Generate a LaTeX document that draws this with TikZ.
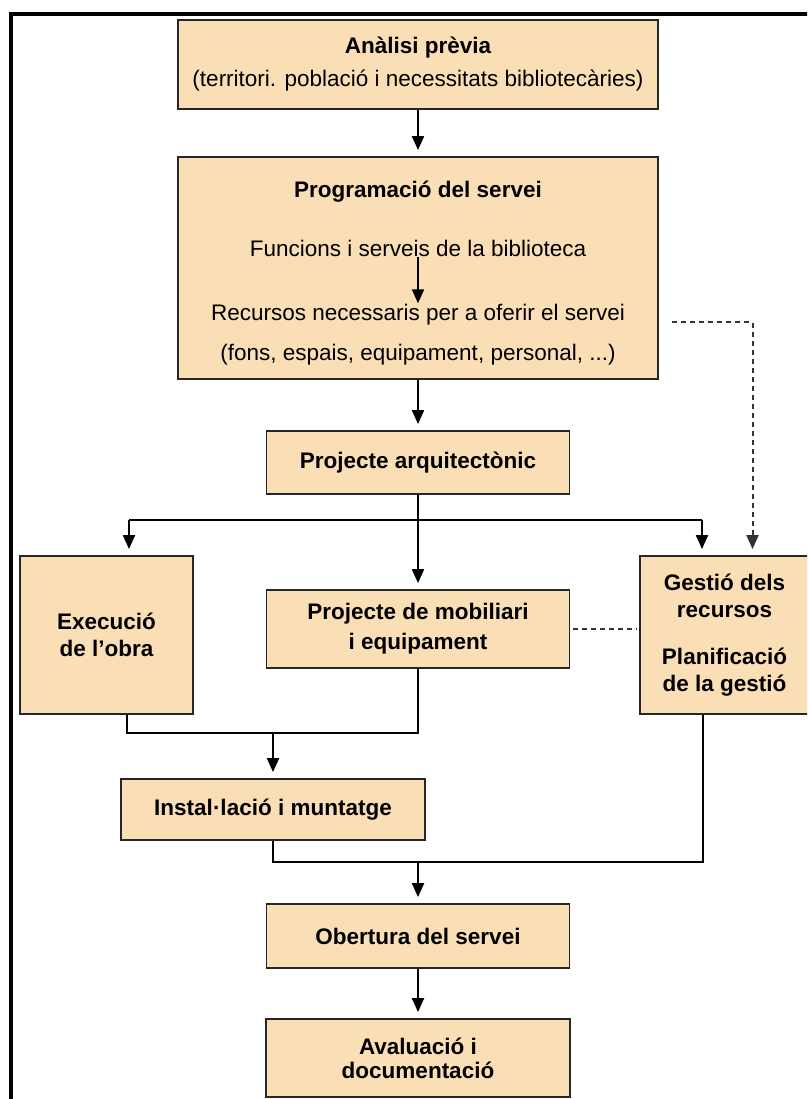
\documentclass[tikz,border=0pt]{standalone}
\usepackage{fontspec}
\setmainfont{Liberation Sans}
\usepackage{xcolor}
\usetikzlibrary{positioning, arrows.meta, calc}

\definecolor{peach}{RGB}{250,222,182}

\begin{document}
\begin{tikzpicture}[
    x=1pt, y=-1pt,
    font=\fontsize{22.5}{27}\selectfont,
    box/.style={
        rectangle,
        draw=black!85,
        fill=peach,
        line width=1.8pt,
        align=center,
        inner sep=2pt
    },
    bold/.style={font=\fontsize{22.5}{27}\selectfont\bfseries},
    txt/.style={align=center, inner sep=1pt},
    line/.style={line width=2pt},
    msg/.style={-{Triangle[width=12pt,length=14pt]}, line width=2pt, shorten >=6pt},
    dline/.style={dash pattern=on 5pt off 4pt, line width=2pt, black!80},
    dmsg/.style={dline, -{Triangle[width=12pt,length=14pt]}, shorten >=6pt}
]

\useasboundingbox (0,0) rectangle (807,1099);
\clip (0,0) rectangle (807,1099);
\fill[white] (0,0) rectangle (807,1099);

\def\xm{418}

% Frame
\draw[line width=4pt] (11,1110) -- (11,14) -- (820,14);

% Boxes
\node[box, minimum width=480pt, minimum height=89pt] (anal) at (\xm, 64.5)
    {\textbf{Anàlisi prèvia}\\[6pt](territori. població i necessitats bibliotecàries)};

\node[box, minimum width=480pt, minimum height=222pt] (prog) at (\xm, 268) {};
\node[txt, bold] (progt) at (\xm, 192) {Programació del servei};
\node[txt] (func) at (\xm, 248) {Funcions i serveis de la biblioteca};
\node[txt] (recs) at (\xm, 315) {Recursos necessaris per a oferir el servei};
\node[txt] (fons) at (\xm, 355) {(fons, espais, equipament, personal, ...)};

\node[box, bold, minimum width=303pt, minimum height=63pt] (arq) at (\xm, 462.5)
    {Projecte arquitectònic};

\node[box, bold, minimum width=173pt, minimum height=158pt] (exec) at (106.5, 635)
    {Execució\\de l'obra};
\node[box, bold, minimum width=303pt, minimum height=78pt] (mob) at (\xm, 629)
    {Projecte de mobiliari\\[3pt]i equipament};
\node[box, bold, minimum width=169pt, minimum height=158pt] (gest) at (724.5, 635)
    {Gestió dels\\recursos\\[20pt]Planificació\\de la gestió};

\node[box, bold, minimum width=304pt, minimum height=61pt] (inst) at (273, 809.5)
    {Instal·lació i muntatge};
\node[box, bold, minimum width=303pt, minimum height=64pt] (obe) at (\xm, 936)
    {Obertura del servei};
\node[box, bold, minimum width=304pt, minimum height=78pt] (aval) at (\xm, 1058)
    {Avaluació i\\[-3pt]documentació};

% Junctions
\coordinate (sl) at (129, 520);
\coordinate (sr) at (702, 520);
\coordinate (dp) at (672, 322);
\coordinate (jl) at (273, 733);
\coordinate (jb) at (\xm, 862);

% Connectors
\draw[msg] (anal) -- (prog);
\draw[msg, shorten >=0pt] (func) -- (recs);
\draw[msg] (prog) -- (arq);

\draw[line] (sl) -- (sr);
\draw[msg] (arq) -- (mob);
\draw[msg] (sl) -- (sl |- exec.north);
\draw[msg] (sr) -- (sr |- gest.north);

\draw[dmsg] (dp) -| ($(gest.north)+(28,0)$);
\draw[dline] ($(mob.east)+(3,0)$) -- ($(mob.east -| gest.west)+(-2,0)$);

\draw[line] ($(exec.south)+(20.5,0)$) |- (mob.south |- jl) -- (mob.south);
\draw[msg] (jl) -- (inst);

\draw[line] (inst.south) |- (jb) -| ($(gest.south)+(-22,0)$);
\draw[msg] (jb) -- (obe);
\draw[msg] (obe) -- (aval);

\end{tikzpicture}
\end{document}
